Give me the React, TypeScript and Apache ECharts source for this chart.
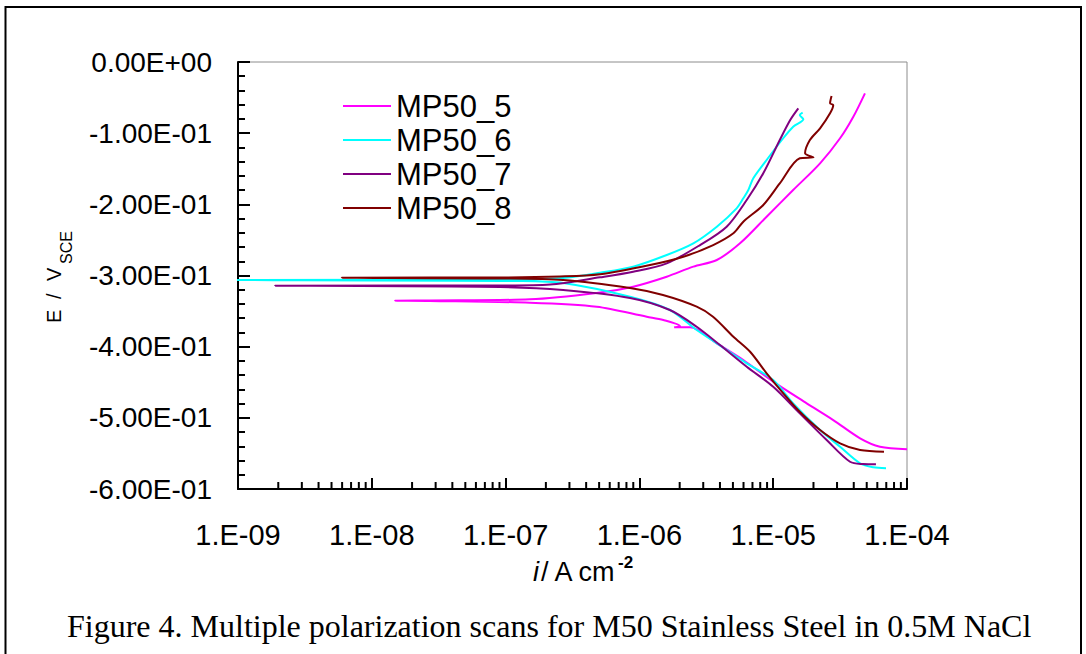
import React, { useEffect, useRef } from "react";
import * as echarts from "echarts";

const seriesNames = ["MP50_5", "MP50_6", "MP50_7", "MP50_8"];
const seriesColors = ["#FF00FF", "#00FFFF", "#800080", "#800000"];
const xTickLabels = ["1.E-09", "1.E-08", "1.E-07", "1.E-06", "1.E-05", "1.E-04"];
const yTickLabels = ["0.00E+00", "-1.00E-01", "-2.00E-01", "-3.00E-01", "-4.00E-01", "-5.00E-01", "-6.00E-01"];
const captionText = "Figure 4. Multiple polarization scans for M50 Stainless Steel in 0.5M NaCl";

// [current density (A cm^-2), potential (V vs SCE)], scan from cathodic to anodic
const mp50_5: [number, number][] = [
  [1.0e-4, -0.544], [6.28e-5, -0.5406], [4.46e-5, -0.5288], [2.81e-5, -0.5031], [1.78e-5, -0.4796],
  [1.0e-5, -0.4492], [5.98e-6, -0.4187], [3.79e-6, -0.3953], [2.39e-6, -0.3728], [1.82e-6, -0.3728],
  [2.01e-6, -0.371], [1.51e-6, -0.3625], [1.135e-6, -0.3579], [4.8e-7, -0.3438], [1.52e-7, -0.3382],
  [2.72e-8, -0.3358], [1.49e-8, -0.3354], [2.72e-8, -0.3351], [1.52e-7, -0.3335], [4.8e-7, -0.3246],
  [8.99e-7, -0.3157], [1.6e-6, -0.3017], [2.53e-6, -0.2876], [3.79e-6, -0.2782], [5.65e-6, -0.2548],
  [8.93e-6, -0.2174], [1.41e-5, -0.1799], [2.24e-5, -0.1424], [3.16e-5, -0.1072], [3.97e-5, -0.0769],
  [4.85e-5, -0.044],
];
const mp50_6: [number, number][] = [
  [6.97e-5, -0.5709], [5.6e-5, -0.5695], [4.46e-5, -0.5639], [3.16e-5, -0.5406], [2.24e-5, -0.5171],
  [1.41e-5, -0.4796], [1.0e-5, -0.4469], [6.34e-6, -0.4234], [3.79e-6, -0.3953], [2.68e-6, -0.3766],
  [1.69e-6, -0.3485], [8.51e-7, -0.3298], [2.69e-7, -0.3105], [1.28e-7, -0.3077], [8.7e-10, -0.3063],
  [1.28e-7, -0.3056], [2.69e-7, -0.3035], [5.08e-7, -0.2961], [8.99e-7, -0.2876], [1.6e-6, -0.2712],
  [2.53e-6, -0.2548], [3.79e-6, -0.2314], [5.33e-6, -0.2056], [5.98e-6, -0.1915], [6.52e-6, -0.1799],
  [7.1e-6, -0.1634], [8.93e-6, -0.1377], [1.16e-5, -0.1096], [1.41e-5, -0.0909], [1.68e-5, -0.0805],
  [1.58e-5, -0.0745], [1.66e-5, -0.0712],
];
const mp50_7: [number, number][] = [
  [5.86e-5, -0.5653], [4.71e-5, -0.5649], [3.75e-5, -0.5617], [2.51e-5, -0.5312], [1.58e-5, -0.4937],
  [1.0e-5, -0.4563], [6.34e-6, -0.4282], [4.0e-6, -0.3977], [2.68e-6, -0.372], [1.69e-6, -0.3485],
  [8.51e-7, -0.3316], [2.69e-7, -0.3204], [9.08e-8, -0.3162], [1.89e-9, -0.3143], [9.08e-8, -0.3141],
  [2.15e-7, -0.3127], [5.08e-7, -0.3025], [8.99e-7, -0.2947], [1.6e-6, -0.2829], [2.84e-6, -0.2572],
  [4.49e-6, -0.2314], [6.34e-6, -0.1939], [8.43e-6, -0.1564], [1.12e-5, -0.1096], [1.34e-5, -0.0815],
  [1.54e-5, -0.0651],
];
const mp50_8: [number, number][] = [
  [6.73e-5, -0.5476], [4.46e-5, -0.5452], [3.16e-5, -0.5358], [2.24e-5, -0.5171], [1.58e-5, -0.4914],
  [1.19e-5, -0.4655], [8.93e-6, -0.4374], [6.72e-6, -0.4071], [5.04e-6, -0.386], [3.55e-6, -0.3579],
  [2.68e-6, -0.3438], [1.5e-6, -0.3274], [8.51e-7, -0.3176], [2.69e-7, -0.3063], [9.08e-8, -0.3042],
  [5.96e-9, -0.3031], [9.08e-8, -0.3028], [2.55e-7, -0.3014], [5.08e-7, -0.2983], [1.2e-6, -0.2853],
  [2.13e-6, -0.2736], [3.56e-6, -0.2572], [5.04e-6, -0.2407], [5.98e-6, -0.2244], [8.43e-6, -0.2009],
  [1.12e-5, -0.1705], [1.58e-5, -0.1353], [2.0e-5, -0.1339], [1.73e-5, -0.1283], [1.88e-5, -0.1096],
  [2.24e-5, -0.0932], [2.66e-5, -0.0721], [2.81e-5, -0.0604], [2.66e-5, -0.058], [2.73e-5, -0.0478],
];
const seriesData = [mp50_5, mp50_6, mp50_7, mp50_8];

const SANS = '"Liberation Sans", Arial, sans-serif';
const SERIF = '"Liberation Serif", "Times New Roman", serif';

export default function App() {
  const ref = useRef<HTMLDivElement>(null);

  useEffect(() => {
    if (!ref.current) return;
    const chart = echarts.init(ref.current, null, { renderer: "svg" });

    const staticGraphics: any[] = [
      {
        type: "rect",
        silent: true,
        shape: { x: 5.5, y: 7, width: 1075.5, height: 700 },
        style: { fill: "none", stroke: "#000", lineWidth: 2 },
      },
      {
        type: "group",
        x: 53.5,
        y: 323,
        rotation: Math.PI / 2,
        silent: true,
        children: [
          { type: "text", x: 0, y: 0, style: { text: "E", font: `20px ${SANS}`, fill: "#000", verticalAlign: "middle", align: "left" } },
          { type: "text", x: 24, y: 0, style: { text: "/", font: `20px ${SANS}`, fill: "#000", verticalAlign: "middle", align: "left" } },
          { type: "text", x: 42, y: 0, style: { text: "V", font: `20px ${SANS}`, fill: "#000", verticalAlign: "middle", align: "left" } },
          { type: "text", x: 59, y: 12.5, style: { text: "SCE", font: `16px ${SANS}`, fill: "#000", verticalAlign: "middle", align: "left" } },
        ],
      },
      { type: "text", x: 533, y: 572, silent: true, style: { text: "i", font: `italic 27px ${SANS}`, fill: "#000", verticalAlign: "middle", align: "left" } },
      { type: "text", x: 541, y: 572, silent: true, style: { text: "/ A cm", font: `27px ${SANS}`, fill: "#000", verticalAlign: "middle", align: "left" } },
      { type: "text", x: 618, y: 562, silent: true, style: { text: "-2", font: `bold 17px ${SANS}`, fill: "#000", verticalAlign: "middle", align: "left" } },
      { type: "text", x: 67, y: 626, silent: true, style: { text: captionText, font: `32px ${SERIF}`, fill: "#000", verticalAlign: "middle", align: "left" } },
    ];

    const baseOption: any = {
      animation: false,
      backgroundColor: "#ffffff",
      grid: { left: 238, right: 179, top: 62, bottom: 165, show: true, borderColor: "#8c8c8c", borderWidth: 1, containLabel: false },
      legend: {
        left: 343,
        top: 89,
        orient: "vertical",
        icon: "rect",
        itemWidth: 48,
        itemHeight: 2,
        itemGap: 0,
        padding: 0,
        data: seriesNames,
        textStyle: { fontFamily: SANS, fontSize: 31, color: "#000", lineHeight: 34 },
      },
      xAxis: {
        type: "log",
        logBase: 10,
        min: 1e-9,
        max: 1e-4,
        splitNumber: 5,
        axisLine: { show: true, onZero: false, lineStyle: { color: "#000", width: 2 } },
        axisTick: { show: true, inside: true, length: 11, lineStyle: { color: "#000", width: 2 } },
        minorTick: { show: false },
        splitLine: { show: false },
        axisLabel: {
          show: true,
          margin: 46,
          verticalAlign: "middle",
          fontFamily: SANS,
          fontSize: 29,
          color: "#000",
          showMinLabel: true,
          showMaxLabel: true,
          formatter: (v: number) => xTickLabels[Math.round(Math.log10(v)) + 9] ?? "",
        },
      },
      yAxis: {
        type: "value",
        min: -0.6,
        max: 0,
        interval: 0.1,
        axisLine: { show: true, onZero: false, lineStyle: { color: "#000", width: 2 } },
        axisTick: { show: true, inside: true, length: 12, lineStyle: { color: "#000", width: 2 } },
        minorTick: { show: true, splitNumber: 5, length: 7, lineStyle: { color: "#000", width: 2 } },
        splitLine: { show: false },
        axisLabel: {
          show: true,
          margin: 26,
          fontFamily: SANS,
          fontSize: 28,
          color: "#000",
          showMinLabel: true,
          showMaxLabel: true,
          formatter: (v: number) => yTickLabels[Math.round(-v * 10)] ?? "",
        },
      },
      series: seriesNames.map((name, i) => ({
        name,
        type: "line",
        data: seriesData[i],
        symbol: "none",
        showSymbol: false,
        smooth: 0.3,
        clip: i === 1 ? false : true,
        color: seriesColors[i],
        lineStyle: { color: seriesColors[i], width: 2 },
      })),
      graphic: staticGraphics,
    };

    chart.setOption(baseOption);

    const minorTickValues: number[] = [];
    for (let d = -9; d < -4; d++) {
      for (let k = 2; k <= 9; k++) minorTickValues.push(k * Math.pow(10, d));
    }
    const minorGraphics = minorTickValues.map((v) => {
      const p = chart.convertToPixel({ gridIndex: 0 }, [v, -0.6]) as number[];
      return {
        type: "line",
        silent: true,
        shape: { x1: p[0], y1: p[1], x2: p[0], y2: p[1] - 7 },
        style: { stroke: "#000", lineWidth: 2 },
      };
    });

    chart.setOption({ ...baseOption, graphic: [...staticGraphics, ...minorGraphics] }, true);

    return () => {
      chart.dispose();
    };
  }, []);

  return (
    <div
      ref={ref}
      style={{ position: "absolute", left: 0, top: 0, width: 1086, height: 654, background: "#fff" }}
    />
  );
}
